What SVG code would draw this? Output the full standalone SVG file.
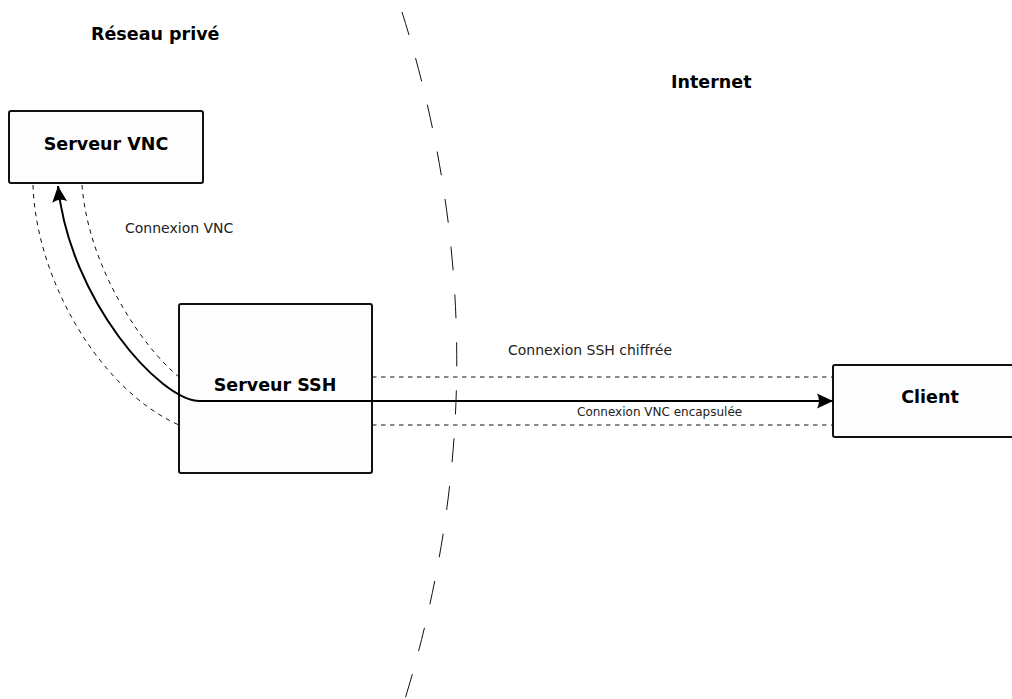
<svg xmlns="http://www.w3.org/2000/svg" width="1012" height="699" viewBox="0 0 1012 699">
<style>
.box{fill:#fdfdfd;stroke:#111;stroke-width:2}
.lbl{font-family:"DejaVu Sans",sans-serif;font-weight:bold;font-size:17.5px;fill:#000}
.zone{font-family:"DejaVu Sans",sans-serif;font-weight:bold;font-size:17.5px;fill:#000}
.note{font-family:"DejaVu Sans",sans-serif;font-size:14px;fill:#222}
.small{font-family:"DejaVu Sans",sans-serif;font-size:12px;fill:#222}
.dash{fill:none;stroke:#111;stroke-width:1;stroke-dasharray:4.5,4.5}
.main{fill:none;stroke:#000;stroke-width:2}
.divider{fill:none;stroke:#111;stroke-width:1;stroke-dasharray:24,24}
</style>
<defs>
<marker id="arr" markerUnits="userSpaceOnUse" markerWidth="18" markerHeight="18" viewBox="0 0 18 18" refX="17" refY="9" orient="auto-start-reverse">
<path d="M17,9 L1,1.5 Q5,9 1,16.5 Z" fill="#000"/>
</marker>
</defs>
<text class="zone" x="91" y="40">Réseau privé</text>
<text class="zone" x="671" y="88">Internet</text>
<path class="divider" d="M402,12 Q510,355 405,699"/>
<g id="node-vnc">
<rect class="box" x="9" y="111" width="194" height="72" rx="2"/>
<text class="lbl" x="106" y="150" text-anchor="middle">Serveur VNC</text>
</g>
<g id="node-ssh">
<rect class="box" x="179" y="304" width="193" height="169" rx="2"/>
<text class="lbl" x="275" y="391" text-anchor="middle">Serveur SSH</text>
</g>
<g id="node-client">
<rect class="box" x="833" y="365" width="194" height="72" rx="2"/>
<text class="lbl" x="930" y="403" text-anchor="middle">Client</text>
</g>
<g id="connectors">
<path class="dash" d="M82,185 C88,265 140,345 179,377"/>
<path class="dash" d="M33,185 C36,280 100,390 179,425"/>
<path class="dash" d="M372,377 H833"/>
<path class="dash" d="M372,425 H833"/>
<path class="main" d="M58,186 C70,300 160,401 200,401 H833" marker-start="url(#arr)" marker-end="url(#arr)"/>
</g>
<text class="note" x="125" y="233">Connexion VNC</text>
<text class="note" x="508" y="355">Connexion SSH chiffrée</text>
<text class="small" x="577" y="416">Connexion VNC encapsulée</text>
</svg>
